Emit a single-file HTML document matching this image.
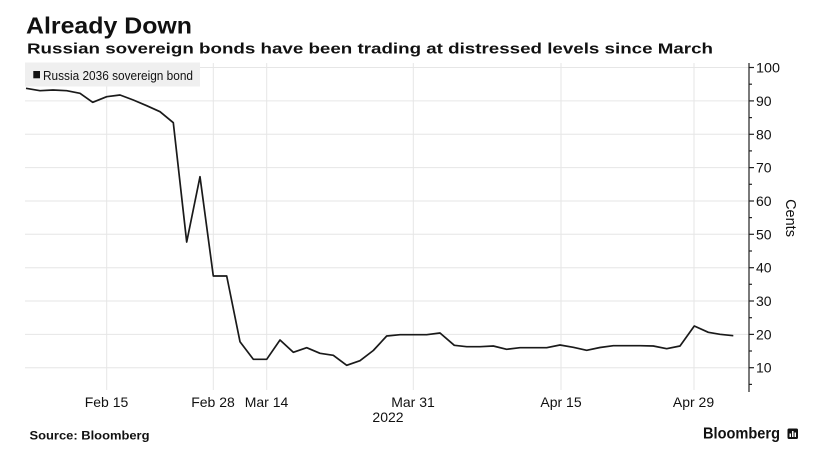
<!DOCTYPE html>
<html>
<head>
<meta charset="utf-8">
<style>
  html,body{margin:0;padding:0;background:#fff;}
  svg{display:block;}
  text{font-family:"Liberation Sans",sans-serif;fill:#111;}
</style>
</head>
<body>
<svg width="813" height="467" viewBox="0 0 813 467" xmlns="http://www.w3.org/2000/svg">
  <rect width="813" height="467" fill="#fff"/>
  <!-- Title -->
  <text x="26" y="33.3" font-size="23" font-weight="bold" textLength="166" lengthAdjust="spacingAndGlyphs">Already Down</text>
  <text x="27" y="53.3" font-size="15" font-weight="bold" textLength="686" lengthAdjust="spacingAndGlyphs">Russian sovereign bonds have been trading at distressed levels since March</text>

  <!-- horizontal gridlines -->
  <g stroke="#e6e6e6" stroke-width="1">
    <line x1="25" x2="749" y1="67.5" y2="67.5"/>
    <line x1="25" x2="749" y1="100.9" y2="100.9"/>
    <line x1="25" x2="749" y1="134.3" y2="134.3"/>
    <line x1="25" x2="749" y1="167.6" y2="167.6"/>
    <line x1="25" x2="749" y1="201" y2="201"/>
    <line x1="25" x2="749" y1="234.3" y2="234.3"/>
    <line x1="25" x2="749" y1="267.7" y2="267.7"/>
    <line x1="25" x2="749" y1="301" y2="301"/>
    <line x1="25" x2="749" y1="334.4" y2="334.4"/>
    <line x1="25" x2="749" y1="367.7" y2="367.7"/>
    <!-- vertical gridlines -->
    <line x1="106.7" x2="106.7" y1="63" y2="390"/>
    <line x1="213.3" x2="213.3" y1="63" y2="390"/>
    <line x1="266.7" x2="266.7" y1="63" y2="390"/>
    <line x1="413.3" x2="413.3" y1="63" y2="390"/>
    <line x1="561" x2="561" y1="63" y2="390"/>
    <line x1="694" x2="694" y1="63" y2="390"/>
  </g>

  <!-- legend -->
  <rect x="25" y="62.5" width="175" height="24" fill="#efefef"/>
  <rect x="33.3" y="71" width="6.7" height="7.3" fill="#111"/>
  <text x="43" y="80" font-size="12.5" textLength="150" lengthAdjust="spacingAndGlyphs" fill="#222">Russia 2036 sovereign bond</text>

  <!-- series -->
  <polyline fill="none" stroke="#1a1a1a" stroke-width="1.7" stroke-linejoin="round"
    points="26,88.3 40,90.7 53,90 66.7,90.7 80,93.3 92.7,102.3 106.7,96.7 120,95 133.3,100 146.7,105.7 160,111.7 173.3,122.7 186.7,242 200,176.7 213.3,276 226.7,276 240,341.7 253.3,359.3 266.7,359.3 280,340 293.3,352.3 306.7,347.7 320,353.3 333.3,355.3 346.7,365.3 360,360.7 373.3,350.5 386.7,336 400,334.7 413.3,334.7 426.7,334.7 440,333 454.3,345.3 466.7,346.7 480,346.7 493.3,346 506.7,349.3 520,347.7 533.3,347.7 546.7,347.7 560,345 573.3,347.3 586.7,350.3 600,347.5 613.3,345.7 626.7,345.7 640,345.7 653.3,346 666.7,348.7 680,346 694.3,326 708.3,332.3 720,334.3 733.3,335.7"/>

  <!-- right axis -->
  <g stroke="#222" stroke-width="1.2">
    <line x1="749" x2="749" y1="63" y2="392"/>
    <line x1="749" x2="754" y1="67.5" y2="67.5"/>
    <line x1="749" x2="754" y1="100.9" y2="100.9"/>
    <line x1="749" x2="754" y1="134.3" y2="134.3"/>
    <line x1="749" x2="754" y1="167.6" y2="167.6"/>
    <line x1="749" x2="754" y1="201" y2="201"/>
    <line x1="749" x2="754" y1="234.3" y2="234.3"/>
    <line x1="749" x2="754" y1="267.7" y2="267.7"/>
    <line x1="749" x2="754" y1="301" y2="301"/>
    <line x1="749" x2="754" y1="334.4" y2="334.4"/>
    <line x1="749" x2="754" y1="367.7" y2="367.7"/>
    <line x1="749" x2="752" y1="84.2" y2="84.2"/>
    <line x1="749" x2="752" y1="117.6" y2="117.6"/>
    <line x1="749" x2="752" y1="150.9" y2="150.9"/>
    <line x1="749" x2="752" y1="184.3" y2="184.3"/>
    <line x1="749" x2="752" y1="217.6" y2="217.6"/>
    <line x1="749" x2="752" y1="251" y2="251"/>
    <line x1="749" x2="752" y1="284.3" y2="284.3"/>
    <line x1="749" x2="752" y1="317.7" y2="317.7"/>
    <line x1="749" x2="752" y1="351" y2="351"/>
    <line x1="749" x2="752" y1="384.4" y2="384.4"/>
  </g>
  <g font-size="14" fill="#222">
    <text x="756" y="72.5" textLength="24" lengthAdjust="spacingAndGlyphs">100</text>
    <text x="756" y="105.9">90</text>
    <text x="756" y="139.3">80</text>
    <text x="756" y="172.6">70</text>
    <text x="756" y="206">60</text>
    <text x="756" y="239.3">50</text>
    <text x="756" y="272.7">40</text>
    <text x="756" y="306">30</text>
    <text x="756" y="339.4">20</text>
    <text x="756" y="372.7">10</text>
  </g>
  <text x="0" y="0" font-size="14.5" fill="#222" text-anchor="middle" transform="translate(786,218) rotate(90)">Cents</text>

  <!-- x labels -->
  <g font-size="14" fill="#222" text-anchor="middle">
    <text x="106.5" y="407">Feb 15</text>
    <text x="213" y="407">Feb 28</text>
    <text x="266.5" y="407">Mar 14</text>
    <text x="413" y="407">Mar 31</text>
    <text x="561" y="407">Apr 15</text>
    <text x="693.5" y="407">Apr 29</text>
    <text x="388" y="422">2022</text>
  </g>

  <!-- footer -->
  <text x="29.5" y="439.5" font-size="11.5" font-weight="bold" textLength="120" lengthAdjust="spacingAndGlyphs">Source: Bloomberg</text>
  <text x="703" y="438.5" font-size="15.5" font-weight="bold" textLength="77" lengthAdjust="spacingAndGlyphs">Bloomberg</text>
  <rect x="787.5" y="428.5" width="10.5" height="10.5" rx="1.5" fill="#111"/>
  <g fill="#fff">
    <rect x="789.5" y="433.5" width="1.5" height="3.5"/>
    <rect x="792" y="431" width="1.5" height="6"/>
    <rect x="794.5" y="432.5" width="1.5" height="4.5"/>
  </g>
</svg>
</body>
</html>
